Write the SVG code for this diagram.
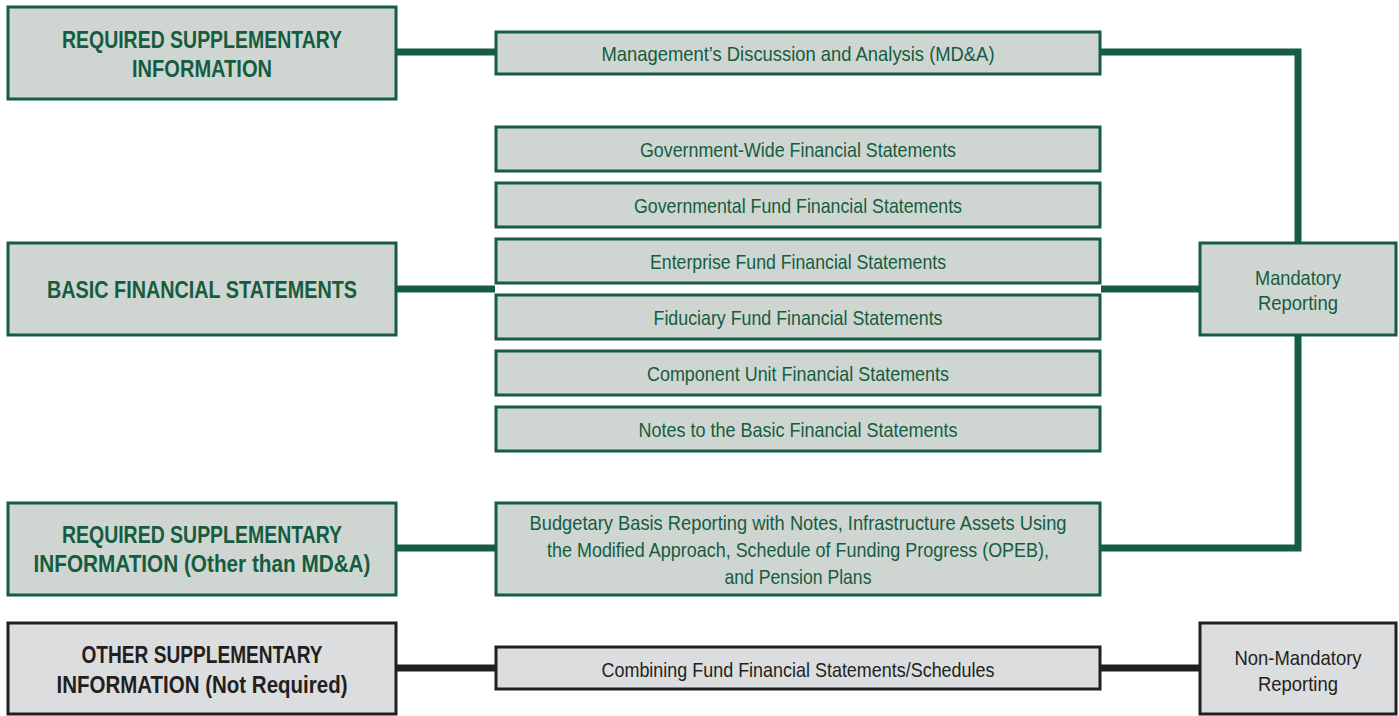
<svg xmlns="http://www.w3.org/2000/svg" width="1399" height="716" viewBox="0 0 1399 716">
<style>
.g{fill:#cfd6d2;stroke:#155c40;stroke-width:3}
.k{fill:#dcddde;stroke:#231f20;stroke-width:3}
.gl{fill:none;stroke:#155c40;stroke-width:7;stroke-linejoin:miter}
.kl{fill:none;stroke:#231f20;stroke-width:7}
.tb{font-family:"Liberation Sans",Arial,sans-serif;font-weight:bold;font-size:23px;text-anchor:middle}
.tr{font-family:"Liberation Sans",Arial,sans-serif;font-size:21px;text-anchor:middle}
.gt{fill:#155c40}
.kt{fill:#231f20}
</style>
<rect width="1399" height="716" fill="#ffffff"/>
<g id="connectors">
<path class="gl" d="M397 52H495"/>
<path class="gl" d="M1101 52H1298V242"/>
<path class="gl" d="M397 289H495"/>
<path class="gl" d="M1101 289H1199"/>
<path class="gl" d="M397 548H495"/>
<path class="gl" d="M1298 336V548H1101"/>
<path class="kl" d="M397 668H495"/>
<path class="kl" d="M1101 668H1199"/>
</g>
<g id="rsi">
<rect class="g" x="8" y="7" width="388" height="92"/>
<text class="tb gt" x="202" y="48" textLength="280" lengthAdjust="spacingAndGlyphs">REQUIRED SUPPLEMENTARY</text>
<text class="tb gt" x="202" y="77" textLength="140" lengthAdjust="spacingAndGlyphs">INFORMATION</text>
</g>
<g id="mda">
<rect class="g" x="496" y="32" width="604" height="42"/>
<text class="tr gt" x="798" y="61" textLength="393" lengthAdjust="spacingAndGlyphs">Management’s Discussion and Analysis (MD&amp;A)</text>
</g>
<g id="basic">
<rect class="g" x="8" y="243" width="388" height="92"/>
<text class="tb gt" x="202" y="298" textLength="310" lengthAdjust="spacingAndGlyphs">BASIC FINANCIAL STATEMENTS</text>
</g>
<g id="gwfs">
<rect class="g" x="496" y="127" width="604" height="44"/>
<text class="tr gt" x="798" y="157" textLength="316" lengthAdjust="spacingAndGlyphs">Government-Wide Financial Statements</text>
</g>
<g id="gffs">
<rect class="g" x="496" y="183" width="604" height="44"/>
<text class="tr gt" x="798" y="213" textLength="328" lengthAdjust="spacingAndGlyphs">Governmental Fund Financial Statements</text>
</g>
<g id="effs">
<rect class="g" x="496" y="239" width="604" height="44"/>
<text class="tr gt" x="798" y="269" textLength="296" lengthAdjust="spacingAndGlyphs">Enterprise Fund Financial Statements</text>
</g>
<g id="fffs">
<rect class="g" x="496" y="295" width="604" height="44"/>
<text class="tr gt" x="798" y="325" textLength="289" lengthAdjust="spacingAndGlyphs">Fiduciary Fund Financial Statements</text>
</g>
<g id="cufs">
<rect class="g" x="496" y="351" width="604" height="44"/>
<text class="tr gt" x="798" y="381" textLength="302" lengthAdjust="spacingAndGlyphs">Component Unit Financial Statements</text>
</g>
<g id="notes">
<rect class="g" x="496" y="407" width="604" height="44"/>
<text class="tr gt" x="798" y="437" textLength="319" lengthAdjust="spacingAndGlyphs">Notes to the Basic Financial Statements</text>
</g>
<g id="mandatory">
<rect class="g" x="1200" y="243" width="196" height="92"/>
<text class="tr gt" x="1298" y="285" textLength="86" lengthAdjust="spacingAndGlyphs">Mandatory</text>
<text class="tr gt" x="1298" y="310" textLength="80" lengthAdjust="spacingAndGlyphs">Reporting</text>
</g>
<g id="rsi2">
<rect class="g" x="8" y="503" width="388" height="92"/>
<text class="tb gt" x="202" y="543" textLength="280" lengthAdjust="spacingAndGlyphs">REQUIRED SUPPLEMENTARY</text>
<text class="tb gt" x="202" y="572" textLength="337" lengthAdjust="spacingAndGlyphs">INFORMATION (Other than MD&amp;A)</text>
</g>
<g id="budgetary">
<rect class="g" x="496" y="503" width="604" height="92"/>
<text class="tr gt" x="798" y="530" textLength="537" lengthAdjust="spacingAndGlyphs">Budgetary Basis Reporting with Notes, Infrastructure Assets Using</text>
<text class="tr gt" x="798" y="557" textLength="502" lengthAdjust="spacingAndGlyphs">the Modified Approach, Schedule of Funding Progress (OPEB),</text>
<text class="tr gt" x="798" y="584" textLength="147" lengthAdjust="spacingAndGlyphs">and Pension Plans</text>
</g>
<g id="osi">
<rect class="k" x="8" y="623" width="388" height="91"/>
<text class="tb kt" x="202" y="663" textLength="241" lengthAdjust="spacingAndGlyphs">OTHER SUPPLEMENTARY</text>
<text class="tb kt" x="202" y="693" textLength="291" lengthAdjust="spacingAndGlyphs">INFORMATION (Not Required)</text>
</g>
<g id="combining">
<rect class="k" x="496" y="647" width="604" height="42"/>
<text class="tr kt" x="798" y="677" textLength="393" lengthAdjust="spacingAndGlyphs">Combining Fund Financial Statements/Schedules</text>
</g>
<g id="nonmandatory">
<rect class="k" x="1200" y="623" width="196" height="91"/>
<text class="tr kt" x="1298" y="665" textLength="127" lengthAdjust="spacingAndGlyphs">Non-Mandatory</text>
<text class="tr kt" x="1298" y="691" textLength="80" lengthAdjust="spacingAndGlyphs">Reporting</text>
</g>
</svg>
